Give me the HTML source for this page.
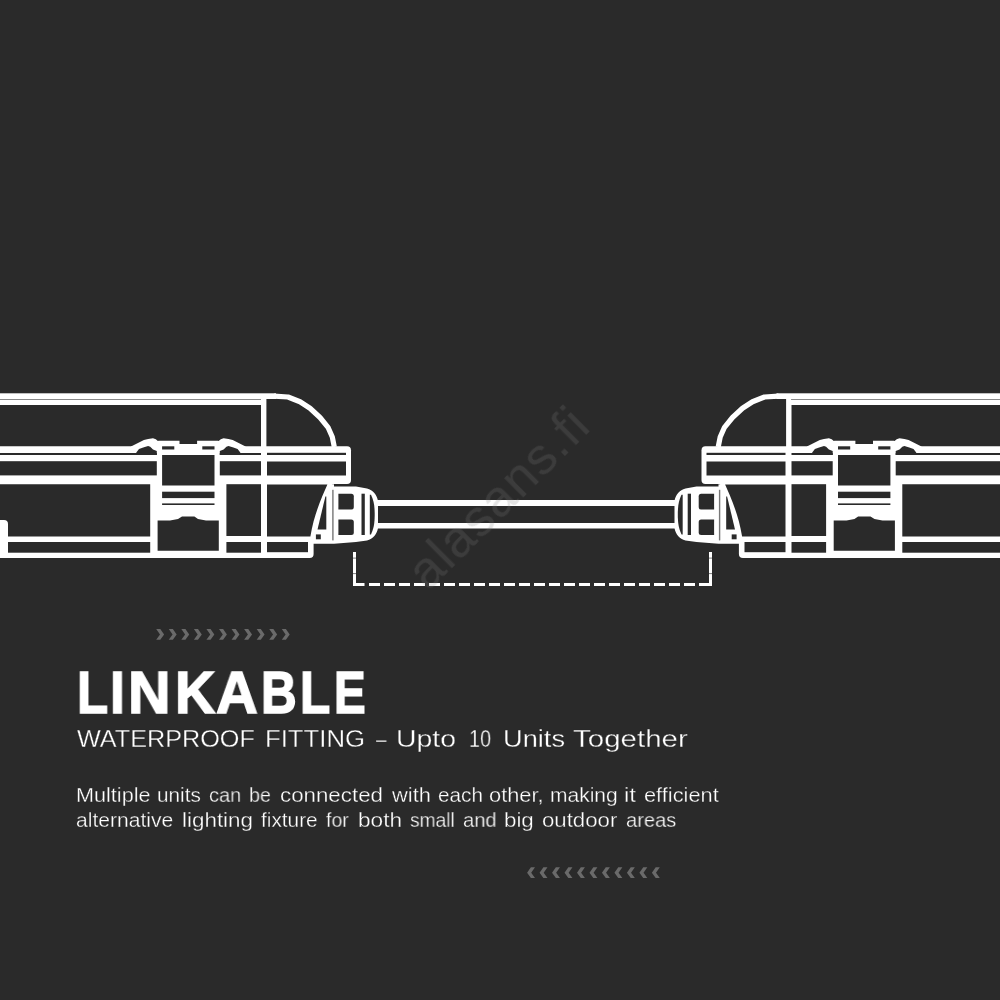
<!DOCTYPE html>
<html>
<head>
<meta charset="utf-8">
<style>
html,body{margin:0;padding:0;}
body{width:1000px;height:1000px;background:#2a2a2a;overflow:hidden;position:relative;font-family:"Liberation Sans",sans-serif;}
svg{position:absolute;left:0;top:0;}
.t{position:absolute;white-space:nowrap;color:#fff;transform-origin:0 0;line-height:1;will-change:transform;}
.n{-webkit-text-stroke:0.3px #2a2a2a;}
</style>
</head>
<body>
<svg width="1000" height="1000" viewBox="0 0 1000 1000">
<defs>
<g id="fx">
  <!-- WHITE -->
  <g fill="#fff" stroke="none">
    <!-- top double line + dome -->
    <rect x="0" y="393.300" width="276" height="5.700"/>
    <path d="M274,396.200 L288,397 L300,401.750 L310,408.250 L320,417.500 L328,427.300 L332.300,437 L334.300,447" fill="none" stroke="#fff" stroke-width="5.200" stroke-linejoin="round"/>
    <rect x="0" y="400" width="264" height="5"/>
    <!-- vertical divider -->
    <rect x="261" y="397" width="5.400" height="160"/>
    <!-- flange -->
    <path d="M0,446.300 H347 Q351,446.300 351,450.300 V480 Q351,484 347,484 H0 Z"/>
    <!-- lower body -->
    <path d="M0,476 H336 C326,500 316,520 313.6,536 V554 Q313.6,558 309.6,558 H0 Z"/>
    <!-- clip -->
    <path d="M131,446.500 L143.900,440 L148.100,439 L153,438.300 L155.800,439.300 L157.900,441 L158.600,440.750 H179.500 V443.900 H197.100 V440.750 H218 L218.700,441 L220.800,439.300 L223.600,438.300 L228.500,439 L232.700,440 L245.600,446.500 V458 H226.300 V557 H150.200 V458 H131 Z"/>
    <!-- gland -->
    <path d="M311,530 L326.3,484.3 H334 V486.5 H356 L367,488.5 C373,490 377,495 378,501 V528 C377,534 373,539 367,540.5 L356,542 L334,543.7 H308 V536 Z"/>
  </g>
  <!-- DARK -->
  <g fill="#2a2a2a" stroke="none">
    <!-- flange thin line -->
    <rect x="0" y="453" width="156.800" height="2"/>
    <rect x="219.800" y="453" width="41.200" height="2"/>
    <rect x="267" y="452.8" width="79" height="2.2"/>
    <!-- humps -->
    <path d="M136,455 L136.300,452.600 L139,449.100 L143.200,447.400 L148.100,446 L150.200,446.700 L153,449.500 L156.800,451 V455 Z"/>
    <path d="M240.600,455 L240.300,452.600 L237.600,449.100 L233.400,447.400 L228.500,446 L226.400,446.700 L223.600,449.500 L219.800,451 V455 Z"/>
    <!-- flange band -->
    <rect x="0" y="461.200" width="156.800" height="14.200"/>
    <rect x="219.800" y="461.200" width="41.200" height="14.200"/>
    <rect x="267" y="461.500" width="79" height="14"/>
    <!-- lower body cavities -->
    <path d="M0,484.200 H150.200 V536.500 H8 V524 Q8,520 4,520 H0 Z"/>
    <rect x="8" y="542" width="142.200" height="10.700"/>
    <rect x="226.400" y="484.200" width="34.600" height="51.800"/>
    <rect x="226.400" y="542" width="34.600" height="10.700"/>
    <path d="M267,484.500 H327.400 C322,497 314,514 310.400,536.500 H267 Z"/>
    <rect x="267" y="542" width="41" height="10.2"/>
    <!-- clip cutouts -->
    <rect x="162.100" y="446.300" width="12.200" height="3.200"/>
    <rect x="202.300" y="446.300" width="12.200" height="3.200"/>
    <rect x="162.100" y="455" width="52.400" height="30.500"/>
    <rect x="162.100" y="491.700" width="52.400" height="6.400"/>
    <rect x="162.100" y="503.400" width="52.400" height="1.600"/>
    <path d="M157.600,550.700 V520.600 H170 L178,519 L182,516.600 H194.400 L198,519 L206,520.600 H218.800 V550.700 Z"/>
    <!-- gland cutouts -->
    <path d="M325.4,496.400 L326.300,496.4 V529.400 H317.500 Z"/>
    <rect x="315.9" y="534.4" width="4.9" height="4.9"/>
    <path d="M338.400,493.700 H351.300 Q353.800,493.700 353.800,496.200 V507.100 Q353.800,509.600 351.300,509.600 H338.400 Z"/>
    <path d="M338.400,519.500 H351.300 Q353.800,519.500 353.800,522 V532.400 Q353.800,534.900 351.300,534.900 H338.400 Z"/>
    <rect x="361.500" y="493.700" width="3.300" height="41.300"/>
    <path d="M369.800,494.800 H371 C373.500,500 374.700,505 374.700,514.600 C374.700,524 373.500,529 371,534.400 H369.800 Z"/>
  </g>
  <rect x="0" y="399" width="261" height="1" fill="#888"/>
  <rect x="332.200" y="489.800" width="1.400" height="50.600" fill="#777"/>
</g>
</defs>
<use href="#fx"/>
<use href="#fx" transform="translate(1052.5,0) scale(-1,1)"/>
<!-- cable -->
<rect x="377" y="500" width="298.500" height="6" fill="#fff"/>
<rect x="377" y="523" width="298.500" height="5.500" fill="#fff"/>

<!-- dashed -->
<g fill="#fff">
<rect x="353" y="552" width="3" height="34"/>
<rect x="709" y="552" width="3" height="34"/>
<rect x="353" y="583" width="11.500" height="3"/>
<rect x="699" y="583" width="13" height="3"/>
<rect x="369" y="583" width="11" height="3"/><rect x="384" y="583" width="11" height="3"/><rect x="399" y="583" width="11" height="3"/><rect x="414" y="583" width="11" height="3"/><rect x="429" y="583" width="11" height="3"/><rect x="444" y="583" width="11" height="3"/><rect x="459" y="583" width="11" height="3"/><rect x="474" y="583" width="11" height="3"/><rect x="489" y="583" width="11" height="3"/><rect x="504" y="583" width="11" height="3"/><rect x="519" y="583" width="11" height="3"/><rect x="534" y="583" width="11" height="3"/><rect x="549" y="583" width="11" height="3"/><rect x="564" y="583" width="11" height="3"/><rect x="579" y="583" width="11" height="3"/><rect x="594" y="583" width="11" height="3"/><rect x="609" y="583" width="11" height="3"/><rect x="624" y="583" width="11" height="3"/><rect x="639" y="583" width="11" height="3"/><rect x="654" y="583" width="11" height="3"/><rect x="669" y="583" width="11" height="3"/><rect x="684" y="583" width="11" height="3"/>
</g>
<g fill="#2a2a2a" opacity="0.6">
<rect x="352" y="557.600" width="5" height="1"/><rect x="352" y="573.100" width="5" height="1"/>
<rect x="708" y="557.600" width="5" height="1"/><rect x="708" y="573.100" width="5" height="1"/>
</g>
<!-- chevrons -->
<defs><path id="cv" d="M0,0 H4.100 L7.900,5.400 L4.100,10.800 H0 L3.800,5.400 Z"/></defs>
<g fill="#6a6a6a">
<use href="#cv" x="156.2" y="629"/><use href="#cv" x="168.76" y="629"/><use href="#cv" x="181.32" y="629"/><use href="#cv" x="193.88" y="629"/><use href="#cv" x="206.44" y="629"/><use href="#cv" x="219" y="629"/><use href="#cv" x="231.56" y="629"/><use href="#cv" x="244.12" y="629"/><use href="#cv" x="256.68" y="629"/><use href="#cv" x="269.24" y="629"/><use href="#cv" x="281.8" y="629"/>
</g>
<g fill="#6a6a6a">
<use href="#cv" transform="translate(535,867.3) scale(-1,1)"/><use href="#cv" transform="translate(547.48,867.3) scale(-1,1)"/><use href="#cv" transform="translate(559.96,867.3) scale(-1,1)"/><use href="#cv" transform="translate(572.44,867.3) scale(-1,1)"/><use href="#cv" transform="translate(584.92,867.3) scale(-1,1)"/><use href="#cv" transform="translate(597.4,867.3) scale(-1,1)"/><use href="#cv" transform="translate(609.88,867.3) scale(-1,1)"/><use href="#cv" transform="translate(622.36,867.3) scale(-1,1)"/><use href="#cv" transform="translate(634.84,867.3) scale(-1,1)"/><use href="#cv" transform="translate(647.32,867.3) scale(-1,1)"/><use href="#cv" transform="translate(659.8,867.3) scale(-1,1)"/>
</g>
</svg>

<!--TEXT-->
<div class="t" style="left:76.99px;top:662.86px;font-size:59.7px;font-weight:bold;-webkit-text-stroke:1.6px #fff;transform:scaleX(0.8516);">L</div>
<div class="t" style="left:110.44px;top:662.86px;font-size:59.7px;font-weight:bold;-webkit-text-stroke:1.6px #fff;transform:scaleX(0.8889);">I</div>
<div class="t" style="left:128.16px;top:662.86px;font-size:59.7px;font-weight:bold;-webkit-text-stroke:1.6px #fff;transform:scaleX(0.9861);">N</div>
<div class="t" style="left:174.96px;top:662.86px;font-size:59.7px;font-weight:bold;-webkit-text-stroke:1.6px #fff;transform:scaleX(0.9359);">K</div>
<div class="t" style="left:215.83px;top:662.86px;font-size:59.7px;font-weight:bold;-webkit-text-stroke:1.6px #fff;transform:scaleX(0.9683);">A</div>
<div class="t" style="left:260.69px;top:662.86px;font-size:59.7px;font-weight:bold;-webkit-text-stroke:1.6px #fff;transform:scaleX(0.8270);">B</div>
<div class="t" style="left:299.88px;top:662.86px;font-size:59.7px;font-weight:bold;-webkit-text-stroke:1.6px #fff;transform:scaleX(0.8290);">L</div>
<div class="t" style="left:334.31px;top:662.86px;font-size:59.7px;font-weight:bold;-webkit-text-stroke:1.6px #fff;transform:scaleX(0.7971);">E</div>
<div class="t n" style="left:77.00px;top:727.71px;font-size:23.5px;transform:scaleX(1.0729);">WATERPROOF</div>
<div class="t n" style="left:265.16px;top:727.71px;font-size:23.5px;transform:scaleX(1.0944);">FITTING</div>
<div class="t n" style="left:375.75px;top:727.71px;font-size:23.5px;transform:scaleX(0.8036);">–</div>
<div class="t n" style="left:396.29px;top:727.71px;font-size:23.5px;transform:scaleX(1.2096);">Upto</div>
<div class="t n" style="left:469.15px;top:727.71px;font-size:23.5px;transform:scaleX(0.8476);">10</div>
<div class="t n" style="left:502.59px;top:727.71px;font-size:23.5px;transform:scaleX(1.1585);">Units</div>
<div class="t n" style="left:572.50px;top:727.71px;font-size:23.5px;transform:scaleX(1.2551);">Together</div>
<div class="t n" style="left:75.95px;top:784.65px;font-size:20.5px;transform:scaleX(1.0543);">Multiple</div>
<div class="t n" style="left:156.99px;top:784.65px;font-size:20.5px;transform:scaleX(1.0106);">units</div>
<div class="t n" style="left:208.75px;top:784.65px;font-size:20.5px;transform:scaleX(0.9724);">can</div>
<div class="t n" style="left:248.54px;top:784.65px;font-size:20.5px;transform:scaleX(0.9579);">be</div>
<div class="t n" style="left:279.50px;top:784.65px;font-size:20.5px;transform:scaleX(1.0881);">connected</div>
<div class="t n" style="left:391.57px;top:784.65px;font-size:20.5px;transform:scaleX(1.0660);">with</div>
<div class="t n" style="left:437.50px;top:784.65px;font-size:20.5px;transform:scaleX(1.0102);">each</div>
<div class="t n" style="left:489.25px;top:784.65px;font-size:20.5px;transform:scaleX(1.0636);">other,</div>
<div class="t n" style="left:550.23px;top:784.65px;font-size:20.5px;transform:scaleX(1.0242);">making</div>
<div class="t n" style="left:623.82px;top:784.65px;font-size:20.5px;transform:scaleX(1.1775);">it</div>
<div class="t n" style="left:643.75px;top:784.65px;font-size:20.5px;transform:scaleX(1.0626);">efficient</div>
<div class="t n" style="left:76.25px;top:810.15px;font-size:20.5px;transform:scaleX(1.0273);">alternative</div>
<div class="t n" style="left:181.91px;top:810.15px;font-size:20.5px;transform:scaleX(1.0934);">lighting</div>
<div class="t n" style="left:261.25px;top:810.15px;font-size:20.5px;transform:scaleX(1.0149);">fixture</div>
<div class="t n" style="left:325.75px;top:810.15px;font-size:20.5px;transform:scaleX(0.9545);">for</div>
<div class="t n" style="left:357.65px;top:810.15px;font-size:20.5px;transform:scaleX(1.1040);">both</div>
<div class="t n" style="left:409.50px;top:810.15px;font-size:20.5px;transform:scaleX(0.9359);">small</div>
<div class="t n" style="left:463.00px;top:810.15px;font-size:20.5px;transform:scaleX(0.9837);">and</div>
<div class="t n" style="left:504.41px;top:810.15px;font-size:20.5px;transform:scaleX(1.0884);">big</div>
<div class="t n" style="left:542.00px;top:810.15px;font-size:20.5px;transform:scaleX(1.0832);">outdoor</div>
<div class="t n" style="left:626.25px;top:810.15px;font-size:20.5px;transform:scaleX(0.9798);">areas</div>
<!--/TEXT-->
<div class="t" id="wm" style="left:427.6px;top:591.8px;font-size:52px;line-height:52px;letter-spacing:1.3px;color:rgba(128,128,128,0.21);transform:rotate(-44.8deg) translate(0,-44.02px);">alasans.fi</div>
</body>
</html>
